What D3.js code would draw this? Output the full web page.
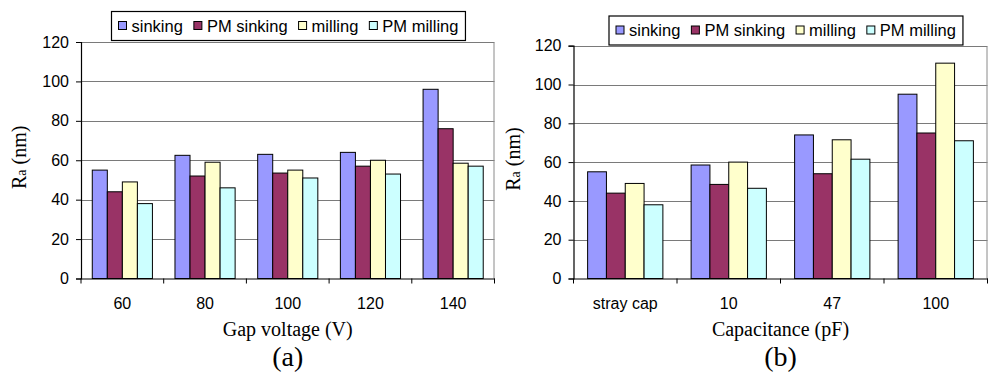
<!DOCTYPE html>
<html lang="en">
<head>
    <meta charset="UTF-8">
    <title>Ra vs gap voltage and capacitance</title>
    <style>
        body { margin: 0; background: #fff; }
        svg { display: block; }
        .tick-label { font-family: "Liberation Sans", Arial, sans-serif; font-size: 16px; fill: #000; }
        .legend-text { font-family: "Liberation Sans", Arial, sans-serif; font-size: 16.5px; fill: #000; }
        .axis-title { font-family: "Liberation Serif", "Times New Roman", serif; font-size: 20px; fill: #000; }
        .panel-label { font-family: "Liberation Serif", "Times New Roman", serif; font-size: 28px; fill: #000; }
    </style>
    <script src="https://d3js.org/d3.v7.min.js"></script>
</head>
<body>
<svg id="chart" width="988" height="373"></svg>
<script>
    const seriesNames = ["sinking", "PM sinking", "milling", "PM milling"];
    const seriesColors = ["#9999ff", "#993366", "#ffffcc", "#ccffff"];
    const yTicks = [0, 20, 40, 60, 80, 100, 120];

    // (a) gap voltage
    const voltageCats = ["60", "80", "100", "120", "140"];
    const voltSinking = [55, 62.5, 63, 64, 96];
    const voltPmSinking = [44, 52, 53.5, 57, 76];
    const voltMilling = [49, 59, 55, 60, 58.5];
    const voltPmMilling = [38, 46, 51, 53, 57];

    // (b) capacitance
    const capCats = ["stray cap", "10", "47", "100"];
    const capSinking = [55, 58.5, 74, 95];
    const capPmSinking = [44, 48.5, 54, 75];
    const capMilling = [49, 60, 71.5, 111];
    const capPmMilling = [38, 46.5, 61.5, 71];

    const svg = d3.select("#chart");

    function drawPanel(cfg) {
        const g = svg.append("g");
        const x = d3.scaleBand().domain(cfg.cats).range([cfg.left, cfg.right]);
        const y = d3.scaleLinear().domain([0, 120]).range([cfg.bottom, cfg.top]);

        // gap width 150% like excel
        const bw = x.bandwidth();
        const gap = bw * 0.75 / 5.5;
        const xs = d3.scaleBand().domain(d3.range(4)).range([gap, bw - gap]);

        // grid lines
        g.selectAll(".grid")
            .data(yTicks.filter(d => d > 0))
            .enter().append("line")
            .attr("x1", cfg.left).attr("x2", cfg.right)
            .attr("y1", d => Math.round(y(d)) + 0.5).attr("y2", d => Math.round(y(d)) + 0.5)
            .attr("stroke", "#7a7a7a").attr("stroke-width", 1);

        // right border of plot area
        g.append("line")
            .attr("x1", cfg.right - 0.5).attr("x2", cfg.right - 0.5)
            .attr("y1", Math.round(y(120)) + 0.5).attr("y2", cfg.bottom)
            .attr("stroke", "#8a8a8a");

        // bars
        cfg.values.forEach((vals, si) => {
            g.selectAll(".bar" + si)
                .data(vals)
                .enter().append("rect")
                .attr("x", (d, i) => x(cfg.cats[i]) + xs(si))
                .attr("y", d => y(d))
                .attr("width", xs.bandwidth())
                .attr("height", d => y(0) - y(d))
                .attr("fill", seriesColors[si])
                .attr("stroke", "#000").attr("stroke-width", 1);
        });

        // y axis
        const yAxis = g.append("g")
            .attr("transform", `translate(${cfg.left},0)`)
            .call(d3.axisLeft(y).tickValues(yTicks).tickSize(5).tickPadding(7));
        yAxis.select(".domain").attr("stroke", "#000").attr("stroke-width", 1.2);
        yAxis.selectAll(".tick text").attr("class", "tick-label");
        yAxis.attr("font-size", null).attr("font-family", null);

        // x axis with ticks at category boundaries
        const xAxis = g.append("g")
            .attr("transform", `translate(0,${cfg.bottom})`)
            .call(d3.axisBottom(x).tickSize(0).tickPadding(19));
        xAxis.select(".domain").attr("stroke", "#000").attr("stroke-width", 1.2);
        xAxis.selectAll(".tick text").attr("class", "tick-label");
        xAxis.attr("font-size", null).attr("font-family", null);
        const bounds = cfg.cats.map(c => x(c)).concat([cfg.right]);
        g.selectAll(".xtick")
            .data(bounds)
            .enter().append("line")
            .attr("x1", d => d).attr("x2", d => d)
            .attr("y1", cfg.bottom).attr("y2", cfg.bottom + 5)
            .attr("stroke", "#000");

        // axis titles
        const ty = g.append("text")
            .attr("class", "axis-title")
            .attr("text-anchor", "middle")
            .attr("transform", `translate(${cfg.yTitleX},${(cfg.top + cfg.bottom) / 2 - 3}) rotate(-90)`);
        ty.append("tspan").text("R");
        ty.append("tspan").attr("font-size", "14px").text("a");
        ty.append("tspan").text(" (nm)");

        const mid = (cfg.left + cfg.right) / 2;
        g.append("text").attr("class", "axis-title")
            .attr("x", mid).attr("y", cfg.bottom + 57)
            .attr("text-anchor", "middle").text(cfg.xTitle);
        g.append("text").attr("class", "panel-label")
            .attr("x", mid).attr("y", cfg.bottom + 87)
            .attr("text-anchor", "middle").text(cfg.label);

        // legend
        const lg = g.append("g").attr("transform", `translate(${cfg.legendX},${cfg.legendY})`);
        const box = lg.append("rect").attr("fill", "#fff").attr("stroke", "#000").attr("stroke-width", 1.2);
        let cx = 7;
        seriesNames.forEach((name, si) => {
            lg.append("rect")
                .attr("x", cx).attr("y", 10).attr("width", 8).attr("height", 8)
                .attr("fill", seriesColors[si]).attr("stroke", "#000");
            const t = lg.append("text").attr("class", "legend-text")
                .attr("x", cx + 13).attr("y", 20).text(name);
            cx += 13 + t.node().getComputedTextLength() + 11;
        });
        box.attr("x", 0).attr("y", 0).attr("width", cx - 4).attr("height", 29);
    }

    drawPanel({
        cats: voltageCats,
        values: [voltSinking, voltPmSinking, voltMilling, voltPmMilling],
        left: 81, right: 494.5, top: 42, bottom: 278.5,
        yTitleX: 26, xTitle: "Gap voltage (V)", label: "(a)",
        legendX: 111.5, legendY: 11.5
    });

    drawPanel({
        cats: capCats,
        values: [capSinking, capPmSinking, capMilling, capPmMilling],
        left: 573.5, right: 987.5, top: 45.7, bottom: 278.5,
        yTitleX: 520, xTitle: "Capacitance (pF)", label: "(b)",
        legendX: 609, legendY: 16
    });
</script>
</body>
</html>
